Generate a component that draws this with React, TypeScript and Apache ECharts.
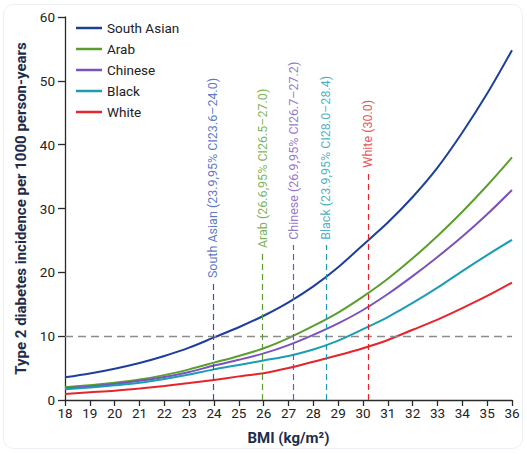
import React, { useEffect, useRef } from "react";
import * as echarts from "echarts";

const bmi = [18, 19, 20, 21, 22, 23, 24, 25, 26, 27, 28, 29, 30, 31, 32, 33, 34, 35, 36];
const southAsian = [3.55, 4.15, 4.9, 5.8, 6.9, 8.2, 9.8, 11.4, 13.2, 15.3, 17.8, 20.8, 24.3, 27.8, 31.8, 36.4, 41.9, 48.0, 54.8];
const arab = [2.0, 2.3, 2.7, 3.2, 3.9, 4.8, 5.85, 6.9, 8.1, 9.7, 11.6, 13.7, 16.2, 19.0, 22.2, 25.7, 29.5, 33.6, 38.0];
const chinese = [1.8, 2.1, 2.5, 3.0, 3.6, 4.4, 5.4, 6.3, 7.3, 8.6, 10.2, 12.0, 14.1, 16.6, 19.4, 22.4, 25.6, 29.1, 32.9];
const black = [1.68, 1.95, 2.3, 2.7, 3.3, 4.0, 4.8, 5.5, 6.2, 6.9, 7.9, 9.3, 11.1, 13.0, 15.2, 17.6, 20.2, 22.7, 25.1];
const white = [0.95, 1.2, 1.45, 1.8, 2.2, 2.65, 3.15, 3.7, 4.2, 5.0, 6.0, 7.0, 8.1, 9.4, 11.0, 12.6, 14.4, 16.3, 18.4];

const seriesNames = ["South Asian", "Arab", "Chinese", "Black", "White"];
const seriesValues = [southAsian, arab, chinese, black, white];
const seriesColors = ["#1d3f9c", "#5a9f2e", "#7a52bd", "#1b9db3", "#e4252b"];
const cutoffColors = ["#2f55b8", "#5a9f2e", "#7a52bd", "#1b9db3", "#e4252b"];

const cutoffBmi = [23.95, 25.95, 27.2, 28.5, 30.2];
const cutoffLineTop = [18.3, 23.0, 24.3, 24.3, 35.6];
const cutoffLabels = [
  "South Asian (23.9,95% CI23.6–24.0)",
  "Arab (26.6,95% CI26.5–27.0)",
  "Chinese (26.9,95% CI26.7–27.2)",
  "Black (23.9,95% CI28.0–28.4)",
  "White (30.0)",
];
const referenceIncidence = 10;

const yTicks = [0, 10, 20, 30, 40, 50, 60];

const FONT = "'Roboto', 'Liberation Sans', sans-serif";

export default function App() {
  const ref = useRef<HTMLDivElement>(null);
  useEffect(() => {
    if (!ref.current) return;
    const chart = echarts.init(ref.current, undefined, { renderer: "svg" });
    const lineSeries = seriesNames.map((name, i) => ({
      name,
      type: "line",
      smooth: 0.3,
      showSymbol: false,
      symbol: "none",
      data: bmi.map((x, j) => [x, seriesValues[i][j]]),
      lineStyle: { color: seriesColors[i], width: 2 },
      itemStyle: { color: seriesColors[i] },
      z: 3,
    }));
    const option: any = {
      animation: false,
      backgroundColor: "#ffffff",
      graphic: [
        {
          type: "rect",
          shape: { x: 3.5, y: 4.5, width: 519, height: 444, r: 10 },
          style: { fill: "none", stroke: "#eceff4", lineWidth: 1 },
          z: -10,
        },
      ],
      grid: { left: 65, right: 15, top: 17, bottom: 54, containLabel: false },
      legend: {
        data: seriesNames,
        orient: "vertical",
        left: 71,
        top: 16,
        icon: "rect",
        itemWidth: 26,
        itemHeight: 2.5,
        itemGap: 7,
        textStyle: { fontFamily: FONT, fontSize: 13.5, color: "#222" },
      },
      xAxis: {
        type: "value",
        min: 18,
        max: 36,
        interval: 1,
        name: "BMI (kg/m²)",
        nameLocation: "middle",
        nameGap: 30,
        nameTextStyle: { fontFamily: FONT, fontSize: 15, fontWeight: "bold", color: "#1f2d4a" },
        axisLine: { lineStyle: { color: "#2a2a2a", width: 1.3 } },
        axisTick: { show: true, length: 6, lineStyle: { color: "#2a2a2a", width: 1.3 } },
        axisLabel: { fontFamily: FONT, fontSize: 13.5, color: "#222", margin: 6 },
        splitLine: { show: false },
      },
      yAxis: {
        type: "value",
        min: 0,
        max: 60,
        interval: 10,
        name: "Type 2 diabetes incidence per 1000 person-years",
        nameLocation: "middle",
        nameGap: 37,
        nameTextStyle: { fontFamily: FONT, fontSize: 15, fontWeight: "bold", color: "#1f2d4a" },
        axisLine: { show: true, lineStyle: { color: "#2a2a2a", width: 1.3 } },
        axisTick: { show: true, length: 7, lineStyle: { color: "#2a2a2a", width: 1.3 } },
        axisLabel: {
          fontFamily: FONT,
          fontSize: 13.5,
          color: "#222",
          margin: 10,
          formatter: (v: number) => (yTicks.includes(v) ? String(v) : ""),
        },
        splitLine: { show: false },
      },
      series: [
        ...lineSeries,
        {
          name: "refs",
          type: "line",
          data: [],
          silent: true,
          markLine: {
            silent: true,
            symbol: "none",
            label: { show: false },
            data: [
              {
                yAxis: referenceIncidence,
                lineStyle: { color: "#8c8c8c", type: [8, 5], width: 1.3 },
              },
              ...cutoffBmi.map((x, i) => [
                {
                  coord: [x, 0],
                  lineStyle: { color: cutoffColors[i], type: [6, 4], width: 1.2 },
                },
                { coord: [x, cutoffLineTop[i]] },
              ]),
            ],
          },
          z: 2,
        },
        {
          name: "cutoffLabels",
          type: "scatter",
          symbolSize: 0,
          silent: true,
          data: cutoffBmi.map((x, i) => ({
            value: [x, cutoffLineTop[i] + 0.8],
            label: {
              show: true,
              formatter: cutoffLabels[i],
              position: "inside",
              rotate: 90,
              align: "left",
              verticalAlign: "middle",
              color: cutoffColors[i],
              fontFamily: FONT,
              fontSize: 12.5,
            },
          })),
          z: 4,
        },
      ],
    };
    chart.setOption(option);
    return () => chart.dispose();
  }, []);
  return (
    <div
      ref={ref}
      style={{ position: "fixed", left: 0, top: 0, width: 527, height: 454 }}
    />
  );
}
